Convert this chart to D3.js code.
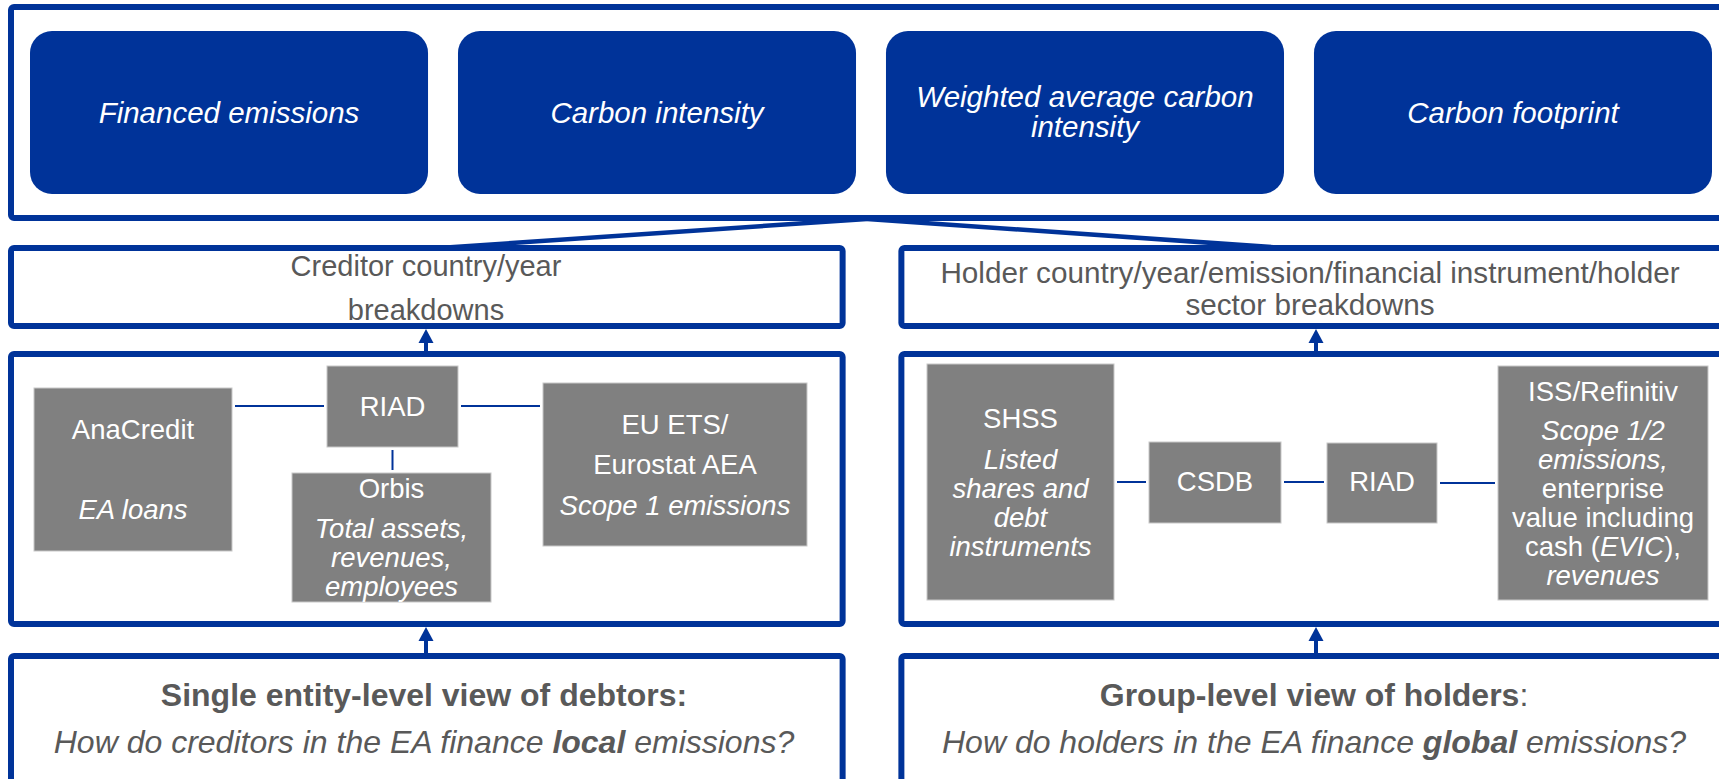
<!DOCTYPE html>
<html>
<head>
<meta charset="utf-8">
<style>
    body { margin: 0; background: #fff; }
    svg { display: block; font-family: "Liberation Sans", Arial, sans-serif; }
</style>
</head>
<body>
<svg id="chart" width="1719" height="779"></svg>
<script src="https://cdn.jsdelivr.net/npm/d3@7"></script>
<script>
    // ---- content ----  ("|" = new line, _x_ = italic, *x* = bold)
    const metrics = ["Financed emissions", "Carbon intensity", "Weighted average carbon|intensity", "Carbon footprint"]
    const breakdowns = ["Creditor country/year|breakdowns",
                        "Holder country/year/emission/financial instrument/holder|sector breakdowns"]
    const leftSources = ["AnaCredit||_EA loans_", "RIAD", "Orbis|_Total assets,_|_revenues,_|_employees_",
                         "EU ETS/|Eurostat AEA|_Scope 1 emissions_"]
    const rightSources = ["SHSS|_Listed_|_shares and_|_debt_|_instruments_", "CSDB", "RIAD",
                          "ISS/Refinitiv|_Scope 1/2_|_emissions,_|enterprise|value including|cash (_EVIC_),|_revenues_"]
    const views = ["*Single entity-level view of debtors:*|_How do creditors in the EA finance *local* emissions?_",
                   "*Group-level view of holders*:|_How do holders in the EA finance *global* emissions?_"]

    // ---- layout ----
    const blue = "#003399", boxGrey = "#808080", textGrey = "#595959"
    const svg = d3.select("#chart")

    let colScale = d3.scaleBand().domain([0, 1]).range([11, 1733]).paddingInner(0.066)
    let metricScale = d3.scaleBand().domain(metrics).range([30, 1712]).paddingInner(0.07)

    const rows = {
        top: [7, 218],
        header: [248, 326],
        data: [354, 624],
        view: [656, 830]
    }

    // source boxes: x, y, w, h, centre of first line, gap after first line, gap for the rest
    const leftBoxes = [
        {x: 34, y: 388, w: 198, h: 163, t: 429, g1: 40, g: 40},
        {x: 327, y: 366, w: 131, h: 81, t: 406, g1: 40, g: 40},
        {x: 292, y: 473, w: 199, h: 129, t: 488, g1: 40, g: 29},
        {x: 543, y: 383, w: 264, h: 163, t: 424, g1: 40, g: 41}
    ]
    const rightBoxes = [
        {x: 927, y: 364, w: 187, h: 236, t: 418, g1: 41, g: 29},
        {x: 1149, y: 442, w: 132, h: 81, t: 481, g1: 40, g: 29},
        {x: 1327, y: 443, w: 110, h: 80, t: 481, g1: 40, g: 29},
        {x: 1498, y: 366, w: 210, h: 234, t: 391, g1: 39, g: 29}
    ]
    // connectors: [from box, to box, direction, y]
    const leftLinks = [[0, 1, "h", 406], [1, 3, "h", 406], [1, 2, "v"]]
    const rightLinks = [[0, 1, "h", 482], [1, 2, "h", 482], [2, 3, "h", 483]]

    // parse markup into tspans
    function writeLine(textSel, line) {
        let segs = [], cur = "", it = false, bd = false
        for (const ch of line) {
            if (ch === "_" || ch === "*") {
                if (cur) segs.push({s: cur, it, bd})
                cur = ""
                if (ch === "_") it = !it; else bd = !bd
            } else cur += ch
        }
        if (cur) segs.push({s: cur, it, bd})
        textSel.selectAll("tspan").data(segs).enter().append("tspan")
            .text(d => d.s)
            .attr("font-style", d => d.it ? "italic" : "normal")
            .attr("font-weight", d => d.bd ? "bold" : "normal")
    }

    function writeBlock(g, str, cx, ys, size, color) {
        str.split("|").forEach((line, i) => {
            let t = g.append("text")
                .attr("x", cx).attr("y", ys[i]).attr("dy", "0.35em")
                .attr("text-anchor", "middle")
                .attr("font-size", size).attr("fill", color)
                .style("white-space", "pre")
            writeLine(t, line)
        })
    }

    // ---- top row of indicators ----
    svg.append("rect")
        .attr("x", 11).attr("y", rows.top[0])
        .attr("width", 1730).attr("height", rows.top[1] - rows.top[0])
        .attr("rx", 3)
        .attr("fill", "none").attr("stroke", blue).attr("stroke-width", 6)

    let mg = svg.append("g")
    mg.selectAll("rect").data(metrics).enter().append("rect")
        .attr("x", d => metricScale(d)).attr("y", 31)
        .attr("width", metricScale.bandwidth()).attr("height", 163)
        .attr("rx", 22).attr("fill", blue)
    metrics.forEach(m => {
        let n = m.split("|").length
        let ys = n === 1 ? [113] : [97, 127]
        let t = m.split("|").map(l => "_" + l + "_").join("|")
        writeBlock(mg, t, metricScale(m) + metricScale.bandwidth() / 2, ys, 29.5, "#fff")
    })

    // funnel from top box down to the two breakdown headers
    const apex = [867, rows.top[1] + 1]
    const ends = [[439, rows.header[0]], [1299, rows.header[0] + 1]]
    ends.forEach(e => {
        svg.append("line")
            .attr("x1", apex[0]).attr("y1", apex[1]).attr("x2", e[0]).attr("y2", e[1])
            .attr("stroke", blue).attr("stroke-width", 4.5)
    })

    // ---- two columns ----
    const headerYs = [[266, 310], [273, 305]]
    const headerX = [426, 1310]
    const headerSize = [29, 29.7]
    const viewYs = [695, 742]

    ;[0, 1].forEach(c => {
        let x0 = colScale(c), w = colScale.bandwidth(), cx = c === 0 ? 426 : 1316
        let g = svg.append("g")

        // boxes
        ;[rows.header, rows.data, rows.view].forEach(r => {
            g.append("rect")
                .attr("x", x0).attr("y", r[0])
                .attr("width", w).attr("height", r[1] - r[0])
                .attr("rx", 3)
                .attr("fill", "#fff").attr("stroke", blue).attr("stroke-width", 6)
        })

        writeBlock(g, breakdowns[c], headerX[c], headerYs[c], headerSize[c], textGrey)
        writeBlock(g, views[c], cx - 2, viewYs, 32, textGrey)

        // arrows pointing up
        ;[[rows.data[0], rows.header[1]], [rows.view[0], rows.data[1]]].forEach(a => {
            let tip = a[1] + 3
            g.append("line")
                .attr("x1", cx).attr("x2", cx).attr("y1", a[0]).attr("y2", tip + 10)
                .attr("stroke", blue).attr("stroke-width", 4)
            g.append("path")
                .attr("d", d3.line()([[cx, tip], [cx - 7.5, tip + 14], [cx + 7.5, tip + 14]]) + "Z")
                .attr("fill", blue)
        })

        // source boxes
        let srcs = c === 0 ? leftSources : rightSources
        let boxes = c === 0 ? leftBoxes : rightBoxes
        let links = c === 0 ? leftLinks : rightLinks

        links.forEach(l => {
            let a = boxes[l[0]], b = boxes[l[1]]
            if (l[2] === "h") {
                g.append("line")
                    .attr("x1", a.x + a.w + 3).attr("x2", b.x - 3)
                    .attr("y1", l[3]).attr("y2", l[3])
                    .attr("stroke", blue).attr("stroke-width", 2)
            } else {
                let mx = a.x + a.w / 2
                g.append("line")
                    .attr("x1", mx).attr("x2", mx)
                    .attr("y1", a.y + a.h + 3).attr("y2", b.y - 3)
                    .attr("stroke", blue).attr("stroke-width", 2)
            }
        })

        g.selectAll("rect.src").data(boxes).enter().append("rect")
            .attr("class", "src")
            .attr("x", d => d.x).attr("y", d => d.y)
            .attr("width", d => d.w).attr("height", d => d.h)
            .attr("fill", boxGrey).attr("stroke", "#c8c8c8").attr("stroke-width", 1)

        srcs.forEach((s, i) => {
            let b = boxes[i]
            let n = s.split("|").length
            let ys = [b.t]
            for (let k = 1; k < n; k++) ys.push(ys[k - 1] + (k === 1 ? b.g1 : b.g))
            writeBlock(g, s, b.x + b.w / 2, ys, 27.5, "#fff")
        })
    })
</script>
</body>
</html>
